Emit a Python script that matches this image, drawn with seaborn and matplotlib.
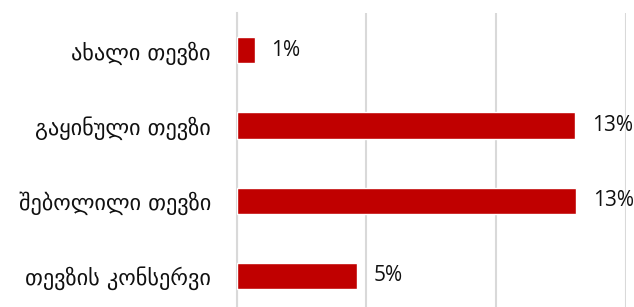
import matplotlib
matplotlib.use("Agg")
import matplotlib.pyplot as plt
import seaborn as sns
import pandas as pd

# data (percent)
categories = ["ახალი თევზი", "გაყინული თევზი", "შებოლილი თევზი", "თევზის კონსერვი"]
values = [0.7, 13.05, 13.1, 4.65]
value_labels = ["1%", "13%", "13%", "5%"]
x_ticks = [0, 5, 10, 15]

bar_color = "#C00000"
grid_color = "#D9D9D9"

sns.set_theme(style="white")
plt.rcParams["font.family"] = ["DejaVu Sans"]

df = pd.DataFrame({"category": categories, "value": values})

fig = plt.figure(figsize=(6.34, 3.07), dpi=100)
ax = fig.add_axes([236.5 / 634, -6.6 / 307, 389 / 634, 301 / 307])

sns.barplot(data=df, x="value", y="category", orient="h", color=bar_color,
            width=0.35, saturation=1, ax=ax, zorder=3)

ax.set_xlim(0, 15)
ax.set_ylim(3.5, -0.5)
ax.set_xticks(x_ticks)
ax.xaxis.grid(True, color=grid_color, linewidth=1.5)
ax.set_axisbelow(True)
ax.tick_params(axis="x", bottom=False, labelbottom=False)
ax.tick_params(axis="y", left=False, pad=12.5, labelsize=16, labelcolor="#111111")
ax.set_xlabel("")
ax.set_ylabel("")
for side in ["top", "right", "bottom"]:
    ax.spines[side].set_visible(False)
ax.spines["left"].set_color(grid_color)
ax.spines["left"].set_linewidth(1.5)

ax.bar_label(ax.containers[0], labels=value_labels, padding=12,
             fontsize=15, color="#111111", family=["Open Sans", "DejaVu Sans"])

fig.savefig("out.png", dpi=100)
